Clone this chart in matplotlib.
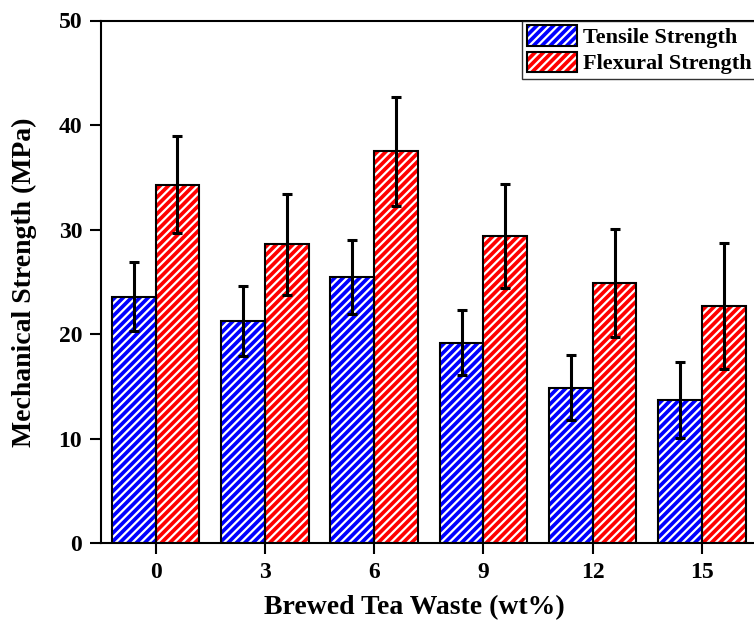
import matplotlib
matplotlib.use("Agg")
import matplotlib.pyplot as plt
import numpy as np
from matplotlib.patches import Patch
from matplotlib.legend_handler import HandlerTuple

categories = ["0", "3", "6", "9", "12", "15"]
tensile = [23.6, 21.3, 25.5, 19.2, 14.9, 13.7]
tensile_err = [3.3, 3.35, 3.55, 3.15, 3.1, 3.65]
flexural = [34.3, 28.6, 37.5, 29.4, 24.9, 22.7]
flexural_err = [4.65, 4.85, 5.2, 4.95, 5.2, 6.05]

plt.rcParams['font.family'] = ['Liberation Serif', 'DejaVu Serif']
plt.rcParams['font.weight'] = 'bold'
plt.rcParams['hatch.linewidth'] = 1.6
plt.rcParams['hatch.color'] = 'white'

fig = plt.figure(figsize=(7.54, 6.27), dpi=100)
ax = fig.add_axes([101/754, (627-543.3)/627, 655.6/754, (543.3-20.5)/627])

x = np.arange(len(categories))
w = 0.4
blue = '#0000FF'
red = '#FF0000'
hatch = '////'

# hatched fills
ax.bar(x - w/2, tensile, w, color=blue, edgecolor='white', hatch=hatch, linewidth=0, zorder=2)
ax.bar(x + w/2, flexural, w, color=red, edgecolor='white', hatch=hatch, linewidth=0, zorder=2)
# outlines
ax.bar(x - w/2, tensile, w, fill=False, edgecolor='black', linewidth=1.5, zorder=3)
ax.bar(x + w/2, flexural, w, fill=False, edgecolor='black', linewidth=1.5, zorder=3)

ax.errorbar(x - w/2, tensile, yerr=tensile_err, fmt='none', ecolor='black',
            elinewidth=2.2, capsize=3.5, capthick=2.2, zorder=4)
ax.errorbar(x + w/2, flexural, yerr=flexural_err, fmt='none', ecolor='black',
            elinewidth=2.2, capsize=3.5, capthick=2.2, zorder=4)

ax.set_xlim(-0.5, 5.5)
ax.set_ylim(0, 50)
ax.set_xticks(x)
ax.set_xticklabels(categories)
ax.set_yticks([0, 10, 20, 30, 40, 50])
ax.tick_params(axis='both', direction='out', length=8, width=1.5, labelsize=17, pad=5.5)
for s in ax.spines.values():
    s.set_linewidth(1.5)

ax.set_xlabel('Brewed Tea Waste (wt%)', fontsize=20, fontweight='bold')
ax.set_ylabel('Mechanical Strength (MPa)', fontsize=20, fontweight='bold')
ax.xaxis.set_label_coords(0.4775, -0.099)
ax.yaxis.set_label_coords(-0.097, 0.5)

h1 = (Patch(facecolor=blue, edgecolor='white', hatch=hatch, linewidth=0),
      Patch(fill=False, edgecolor='black', linewidth=1.5))
h2 = (Patch(facecolor=red, edgecolor='white', hatch=hatch, linewidth=0),
      Patch(fill=False, edgecolor='black', linewidth=1.5))
leg = ax.legend([h1, h2], ['Tensile Strength', 'Flexural Strength'],
                handler_map={tuple: HandlerTuple(ndivide=1)},
                loc='upper right', bbox_to_anchor=(1.0, 1.0), borderaxespad=0,
                handlelength=2.25, handleheight=1.05, labelspacing=0.15,
                handletextpad=0.27, borderpad=0.22, fancybox=False, frameon=True,
                prop={'weight': 'bold', 'size': 16})
leg.get_frame().set_edgecolor('black')
leg.get_frame().set_linewidth(1.0)

fig.savefig('out.png', dpi=100)
